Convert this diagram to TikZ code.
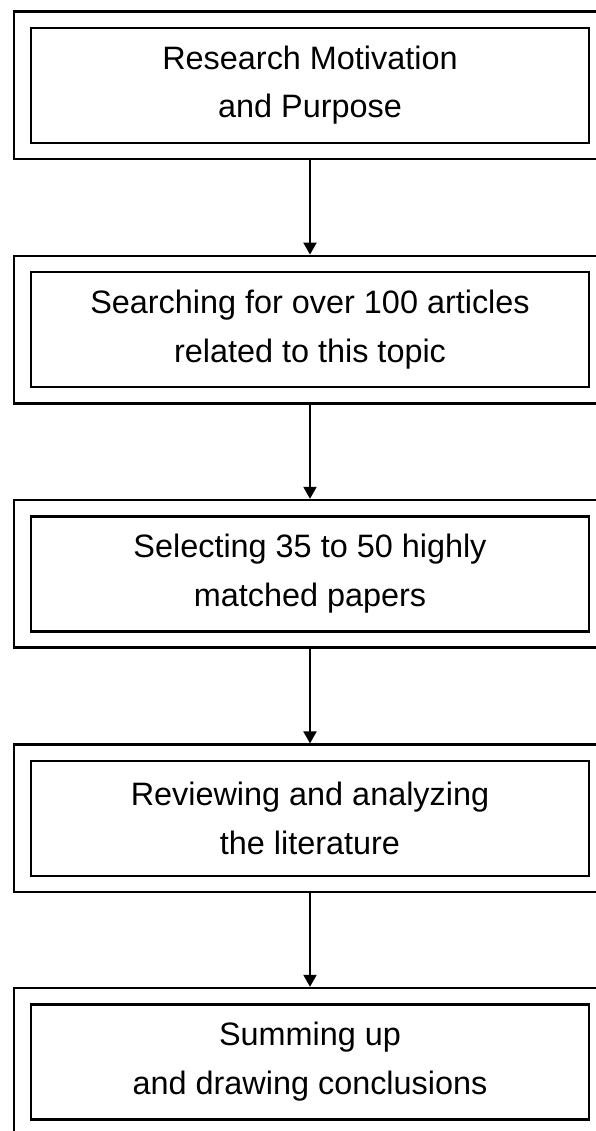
\documentclass[tikz,border=0pt]{standalone}
\usepackage{fontspec}
\setmainfont{Liberation Sans}
\usetikzlibrary{arrows.meta}

\begin{document}
\begin{tikzpicture}[x=1pt,y=-1pt]
        \tikzstyle{outerbox}=[draw,line width=2.5pt,minimum width=592pt,minimum height=147.5pt,inner sep=0pt]
        \tikzstyle{innerbox}=[draw,line width=2.5pt,minimum width=558pt,minimum height=115pt,inner sep=0pt,align=center,font=\fontsize{32.4}{48.4}\selectfont]
        \tikzstyle{flow}=[-{Triangle[length=12pt,width=13pt]},line width=2pt]
            \useasboundingbox (0,0) rectangle (596,1131);
            \clip (0,0) rectangle (596,1131);

            \node[outerbox] (o1) at (310,85.4) {};
            \node[outerbox] (o2) at (310,329.6) {};
            \node[outerbox] (o3) at (310,573.8) {};
            \node[outerbox] (o4) at (310,818.4) {};
            \node[outerbox] (o5) at (310,1061.8) {};

            \node[innerbox] (motivation) at (o1) {Research Motivation\\and Purpose};
            \node[innerbox] (searching) at (o2) {Searching for over 100 articles\\related to this topic};
            \node[innerbox] (selecting) at (o3) {Selecting 35 to 50 highly\\matched papers};
            \node[innerbox] (reviewing) at (o4) {Reviewing and analyzing\\the literature};
            \node[innerbox] (summing) at (o5) {Summing up\\and drawing conclusions};

            \draw[flow] (o1) -- (o2);
            \draw[flow] (o2) -- (o3);
            \draw[flow] (o3) -- (o4);
            \draw[flow] (o4) -- (o5);
        \end{tikzpicture}
\end{document}
